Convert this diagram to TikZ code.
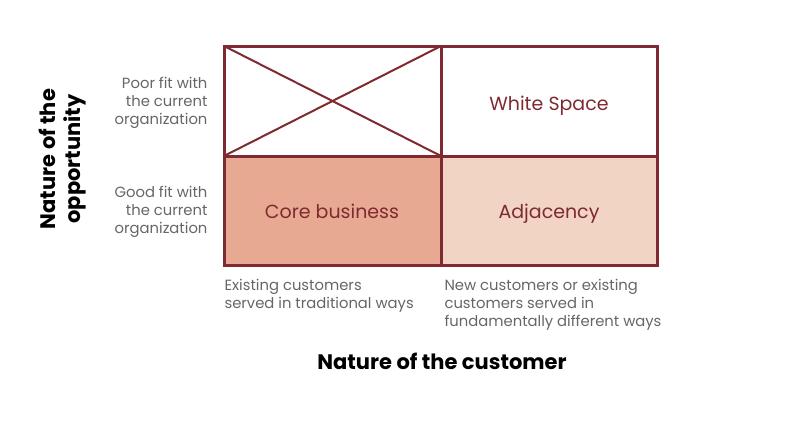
\documentclass[tikz,border=0pt]{standalone}
\usepackage{fontspec}
\setmainfont{Poppins}
\begin{document}
\begin{tikzpicture}[x=1pt,y=-1pt,
  grid/.style={draw=bordc,line width=3pt},
  cell/.style={font=\fontsize{19}{22}\selectfont,text=bordc,anchor=base},
  side/.style={font=\fontsize{14.8}{18}\selectfont,text=grayt,align=right,anchor=east},
  bot/.style={font=\fontsize{14.8}{18}\selectfont,text=grayt,align=left,anchor=north west},
  title/.style={font=\fontsize{21}{25}\selectfont\bfseries,text=black}]
\definecolor{bordc}{HTML}{7F2A30}
\definecolor{corec}{HTML}{E8A993}
\definecolor{adjc}{HTML}{F2D4C4}
\definecolor{grayt}{HTML}{666666}
\useasboundingbox (0,0) rectangle (804,432);
\coordinate (tl) at (224,46);
\coordinate (tm) at (441,46);
\coordinate (tr) at (657,46);
\coordinate (ml) at (224,156);
\coordinate (mm) at (441,156);
\coordinate (mr) at (657,156);
\coordinate (bl) at (224,265);
\coordinate (bm) at (441,265);
\coordinate (br) at (657,265);
\fill[corec] (ml) rectangle (bm);
\fill[adjc] (mm) rectangle (br);
\draw[draw=bordc,line width=2pt] (tl) -- (mm) (ml) -- (tm);
\draw[grid] (tl) rectangle (br) (tm) -- (bm) (ml) -- (mr);
\node[cell] (ws) at (549,110) {White Space};
\node[cell] (cb) at (332,218) {Core business};
\node[cell] (adj) at (549,218) {Adjacency};
\node[side] (poor) at (211,103) {Poor fit with\\the current\\organization};
\node[side] (good) at (211,212) {Good fit with\\the current\\organization};
\node[bot] (exist) at (221,276) {Existing customers\\served in traditional ways};
\node[bot] (new) at (441,276) {New customers or existing\\customers served in\\fundamentally different ways};
\node[title] (cust) at (442,361) {Nature of the customer};
\node[title,rotate=90,align=center] (opp) at (63,159) {Nature of the\\opportunity};
\end{tikzpicture}
\end{document}
